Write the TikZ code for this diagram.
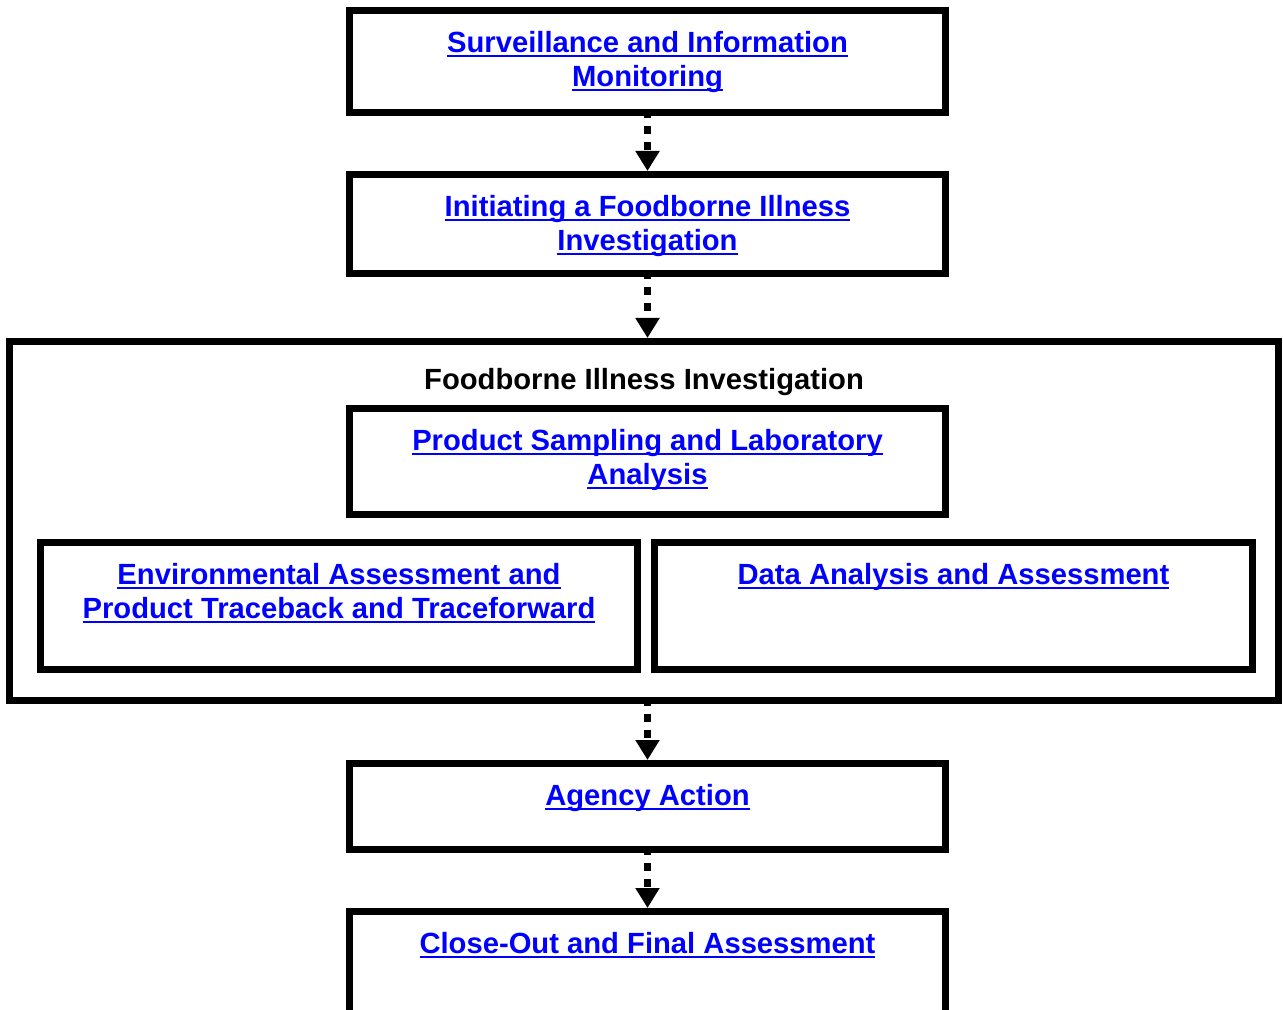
\documentclass[tikz,border=0pt]{standalone}
\usepackage{fontspec}
\setmainfont{Liberation Sans}
\usetikzlibrary{arrows.meta}
% underlined link text
\newcommand{\lnk}[1]{\setbox0\hbox{#1}\rlap{\rule[-2.4pt]{\wd0}{1.4pt}}\box0}

\begin{document}
\begin{tikzpicture}[x=0.5pt, y=-0.5pt, >={Triangle[width=11.5pt, length=10pt]},
  box/.style={draw, line width=3.5pt, minimum width=298pt, inner sep=0pt},
  lbl/.style={anchor=north, inner sep=0pt, align=center, text=blue,
    font=\bfseries\fontsize{14.6}{17}\selectfont},
  flow/.style={->, line width=3.2pt, dash pattern=on 4pt off 4pt}]
\clip (0,0) rectangle (1283,1010);
% steps before the investigation
\node[box, minimum height=51pt] (surv) at (647.5,61.5) {};
\node[lbl] (survT) at ([yshift=-12pt]surv.north) {\lnk{Surveillance and Information}\\\lnk{Monitoring}};
\node[box, minimum height=49.5pt] (init) at (647.5,224) {};
\node[lbl] (initT) at ([yshift=-12pt]init.north) {\lnk{Initiating a Foodborne Illness}\\\lnk{Investigation}};
% the investigation and its parts
\node[box, minimum width=634.5pt, minimum height=179.5pt] (inv) at (644,521) {};
\node[lbl, text=black] (invT) at ([yshift=-15pt]inv.north) {Foodborne Illness Investigation};
\node[box, minimum height=53pt] (samp) at (647.5,461.5) {};
\node[lbl] (sampT) at ([yshift=-12pt]samp.north) {\lnk{Product Sampling and Laboratory}\\\lnk{Analysis}};
\node[box, minimum width=298.5pt, minimum height=63.5pt] (env) at (339,606) {};
\node[lbl] (envT) at ([yshift=-12pt]env.north) {\lnk{Environmental Assessment and}\\\lnk{Product Traceback and Traceforward}};
\node[box, minimum width=299pt, minimum height=63.5pt] (data) at (953.5,606) {};
\node[lbl] (dataT) at ([yshift=-12pt]data.north) {\lnk{Data Analysis and Assessment}};
% steps after
\node[box, minimum height=43pt] (act) at (647.5,806.5) {};
\node[lbl] (actT) at ([yshift=-12pt]act.north) {\lnk{Agency Action}};
\node[box, minimum height=75pt] (close) at (647.5,986.5) {};
\node[lbl] (closeT) at ([yshift=-12pt]close.north) {\lnk{Close-Out and Final Assessment}};
% dotted flow arrows
\draw[flow] ([yshift=3pt]surv.south) -- (init.north);
\draw[flow] ([yshift=3pt]init.south) -- (init.south |- inv.north);
\draw[flow] ([yshift=3pt]act.north |- inv.south) -- (act.north);
\draw[flow] ([yshift=3pt]act.south) -- (close.north);
\end{tikzpicture}
\end{document}
